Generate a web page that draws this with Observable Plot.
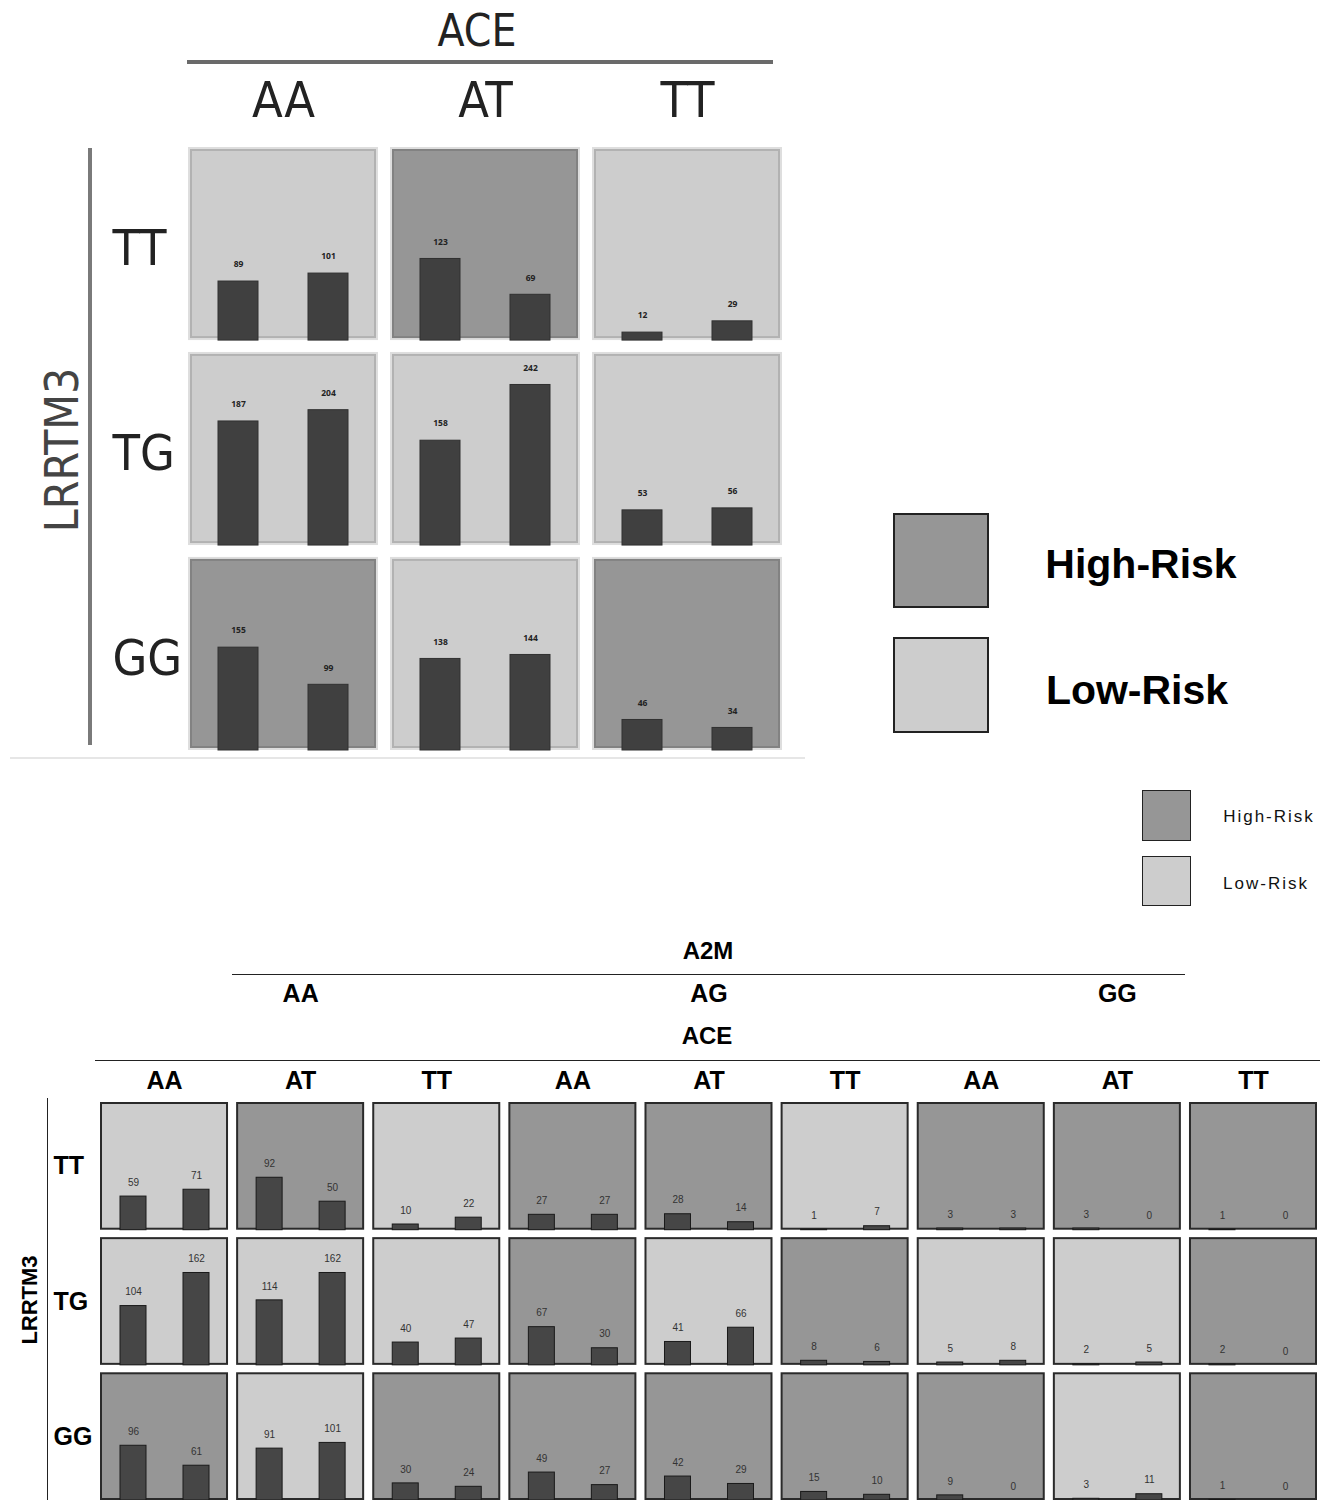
<!DOCTYPE html>
<html>
<head>
<meta charset="utf-8">
<script src="https://cdn.jsdelivr.net/npm/d3@7"></script>
<script src="https://cdn.jsdelivr.net/npm/@observablehq/plot@0.6"></script>
<style>
  html, body { margin: 0; padding: 0; background: #fff; }
  #root { position: relative; width: 1338px; height: 1500px; overflow: hidden; background: #fff; }
  #root svg { position: absolute; }
  .lbl { position: absolute; white-space: nowrap; line-height: 1; }
  .bar { position: absolute; }
</style>
</head>
<body>
<div id="root"></div>
<script>
// ---------- data ----------
const outcomes = ["Cases", "Controls"];
const riskLevels = ["High-Risk", "Low-Risk"];
const riskColors = ["#969696", "#cdcdcd"];

// Top panel: ACE x LRRTM3
const topAce = ["AA", "AT", "TT"];
const topLrrtm3 = ["TT", "TG", "GG"];
const topCases = [
  [89, 123, 12],
  [187, 158, 53],
  [155, 138, 46]
];
const topControls = [
  [101, 69, 29],
  [204, 242, 56],
  [99, 144, 34]
];
const topRisk = [
  ["L", "H", "L"],
  ["L", "L", "L"],
  ["H", "L", "H"]
];

// Bottom panel: A2M x ACE x LRRTM3
const a2mGenotypes = ["AA", "AG", "GG"];
const aceGenotypes = ["AA", "AT", "TT"];
const lrrtm3Genotypes = ["TT", "TG", "GG"];
const bottomCases = [
  [59, 92, 10, 27, 28, 1, 3, 3, 1],
  [104, 114, 40, 67, 41, 8, 5, 2, 2],
  [96, 91, 30, 49, 42, 15, 9, 3, 1]
];
const bottomControls = [
  [71, 50, 22, 27, 14, 7, 3, 0, 0],
  [162, 162, 47, 30, 66, 6, 8, 5, 0],
  [61, 101, 24, 27, 29, 10, 0, 11, 0]
];
const bottomRisk = [
  ["L", "H", "L", "H", "H", "L", "H", "H", "H"],
  ["L", "L", "L", "H", "L", "H", "L", "L", "H"],
  ["H", "L", "H", "H", "H", "H", "H", "L", "H"]
];

// ---------- build tables ----------
const riskName = r => (r === "H" ? "High-Risk" : "Low-Risk");

const topCells = [], topBars = [];
topLrrtm3.forEach((lr, i) => topAce.forEach((ace, j) => {
  topCells.push({lr, ace, risk: riskName(topRisk[i][j])});
  topBars.push({lr, ace, outcome: outcomes[0], value: topCases[i][j]});
  topBars.push({lr, ace, outcome: outcomes[1], value: topControls[i][j]});
}));

const colKeys = [];
a2mGenotypes.forEach(a => aceGenotypes.forEach(c => colKeys.push(a + "|" + c)));

const botCells = [], botBars = [];
lrrtm3Genotypes.forEach((lr, i) => colKeys.forEach((key, j) => {
  botCells.push({lr, key, risk: riskName(bottomRisk[i][j])});
  botBars.push({lr, key, outcome: outcomes[0], value: bottomCases[i][j]});
  botBars.push({lr, key, outcome: outcomes[1], value: bottomControls[i][j]});
}));

const root = document.getElementById("root");
const condensed = "'DejaVu Sans Condensed', 'DejaVu Sans', sans-serif";
const arial = "'Liberation Sans', Arial, sans-serif";

// ---------- top plot ----------
const topPlot = Plot.plot({
  width: 820, height: 770,
  marginLeft: 188, marginRight: 38, marginTop: 147, marginBottom: 20,
  style: {overflow: "visible", background: "transparent", color: "#222"},
  fx: {domain: topAce, paddingInner: 0.0594, paddingOuter: 0, round: false},
  fy: {domain: topLrrtm3, paddingInner: 0.058, paddingOuter: 0, round: false},
  x: {domain: outcomes, paddingInner: 0.56, paddingOuter: 0.33, axis: null},
  y: {domain: [0, 291], axis: null},
  color: {domain: riskLevels, range: riskColors},
  marks: [
    Plot.rect(topCells, {fx: "ace", fy: "lr", fill: "risk", stroke: "#000", strokeOpacity: 0.13, strokeWidth: 4, inset: 2}),
    Plot.barY(topBars.filter(d => d.value > 0), {fx: "ace", fy: "lr", x: "outcome", y: "value", fill: "#404040", stroke: "#303030", strokeWidth: 1}),
    Plot.text(topBars, {fx: "ace", fy: "lr", x: "outcome", y: "value", text: d => String(d.value), dy: -17, fontSize: 8.5, fontWeight: "bold", fill: "#222"}),
    Plot.axisFx({anchor: "top", tickSize: 0, tickPadding: 31, label: null, fontSize: 50, fontFamily: condensed}),
    Plot.axisFy({anchor: "left", tickSize: 0, tickPadding: 0, textAnchor: "start", dx: -76, dy: 5, label: null, fontSize: 50, fontFamily: condensed})
  ]
});
topPlot.style.left = "0px";
topPlot.style.top = "0px";
root.appendChild(topPlot);

// ---------- bottom plot ----------
const botTop = 900;
const botPlot = Plot.plot({
  width: 1338, height: 600,
  marginLeft: 100, marginRight: 21, marginTop: 1102 - botTop, marginBottom: 0,
  style: {overflow: "visible", background: "transparent", color: "#000"},
  fx: {domain: colKeys, paddingInner: 0.0595, paddingOuter: 0, round: false},
  fy: {domain: lrrtm3Genotypes, paddingInner: 0.055, paddingOuter: 0, round: false},
  x: {domain: outcomes, paddingInner: 0.59, paddingOuter: 0.31, axis: null},
  y: {domain: [0, 224], axis: null},
  color: {domain: riskLevels, range: riskColors},
  marks: [
    Plot.rect(botCells, {fx: "key", fy: "lr", fill: "risk", stroke: "#2a2a2a", strokeWidth: 2, inset: 1}),
    Plot.barY(botBars.filter(d => d.value > 0), {fx: "key", fy: "lr", x: "outcome", y: "value", fill: "#464646", stroke: "#1a1a1a", strokeWidth: 1}),
    Plot.text(botBars, {fx: "key", fy: "lr", x: "outcome", y: "value", text: d => String(d.value), dy: -14, fontSize: 10, fontFamily: arial, fill: "#333"}),
    Plot.text(a2mGenotypes, {fx: d => d + "|AT", fy: () => "TT", frameAnchor: "top", text: d => d, dy: -118, fontSize: 25, fontWeight: "bold", fontFamily: arial, fill: "#000"}),
    Plot.axisFx({anchor: "top", tickSize: 0, tickPadding: 14, label: null, tickFormat: d => d.split("|")[1], fontSize: 25, fontWeight: "bold", fontFamily: arial}),
    Plot.axisFy({anchor: "left", tickSize: 0, tickPadding: 0, textAnchor: "start", dx: -47, label: null, fontSize: 25, fontWeight: "bold", fontFamily: arial})
  ]
});
botPlot.style.left = "0px";
botPlot.style.top = botTop + "px";
root.appendChild(botPlot);

// ---------- titles, lines, legends ----------
function label(text, x, y, style, rotate) {
  const d = document.createElement("div");
  d.className = "lbl";
  d.textContent = text;
  Object.assign(d.style, {left: x + "px", top: y + "px",
    transform: "translate(-50%,-50%)" + (rotate ? " rotate(-90deg)" : "")}, style);
  root.appendChild(d);
}
function line(x, y, w, h, color) {
  const d = document.createElement("div");
  d.className = "bar";
  Object.assign(d.style, {left: x + "px", top: y + "px", width: w + "px", height: h + "px", background: color});
  root.appendChild(d);
}
function swatch(x, y, w, h, fill, bw) {
  const d = document.createElement("div");
  d.className = "bar";
  Object.assign(d.style, {left: x + "px", top: y + "px", width: (w - 2 * bw) + "px", height: (h - 2 * bw) + "px",
    background: fill, border: bw + "px solid #222"});
  root.appendChild(d);
}

// top panel titles
label("ACE", 477, 31, {fontFamily: condensed, fontSize: "44px", color: "#222"});
line(187, 60, 586, 4, "#6a6a6a");
label("LRRTM3", 62, 450, {fontFamily: condensed, fontSize: "46px", color: "#444"}, true);
line(88, 148, 4, 597, "#7a7a7a");
line(10, 757, 795, 2, "#e6e6e6");

// big legend
swatch(893, 513, 96, 95, riskColors[0], 2);
swatch(893, 637, 96, 96, riskColors[1], 2);
label(riskLevels[0], 1141, 564, {fontFamily: arial, fontWeight: "bold", fontSize: "41px", color: "#000"});
label(riskLevels[1], 1137, 690, {fontFamily: arial, fontWeight: "bold", fontSize: "41px", color: "#000"});

// small legend
swatch(1142, 790, 49, 51, riskColors[0], 1);
swatch(1142, 856, 49, 50, riskColors[1], 1);
label(riskLevels[0], 1269, 816, {fontFamily: arial, fontSize: "17px", letterSpacing: "2px", color: "#111"});
label(riskLevels[1], 1266, 883, {fontFamily: arial, fontSize: "17px", letterSpacing: "2px", color: "#111"});

// bottom panel titles
label("A2M", 708, 951, {fontFamily: arial, fontWeight: "bold", fontSize: "24px", color: "#000"});
line(232, 974, 953, 1, "#222");
label("ACE", 707, 1036, {fontFamily: arial, fontWeight: "bold", fontSize: "24px", color: "#000"});
line(95, 1060, 1225, 1, "#222");
label("LRRTM3", 30, 1300, {fontFamily: arial, fontWeight: "bold", fontSize: "22px", color: "#000"}, true);
line(47, 1098, 1, 402, "#222");
</script>
</body>
</html>
